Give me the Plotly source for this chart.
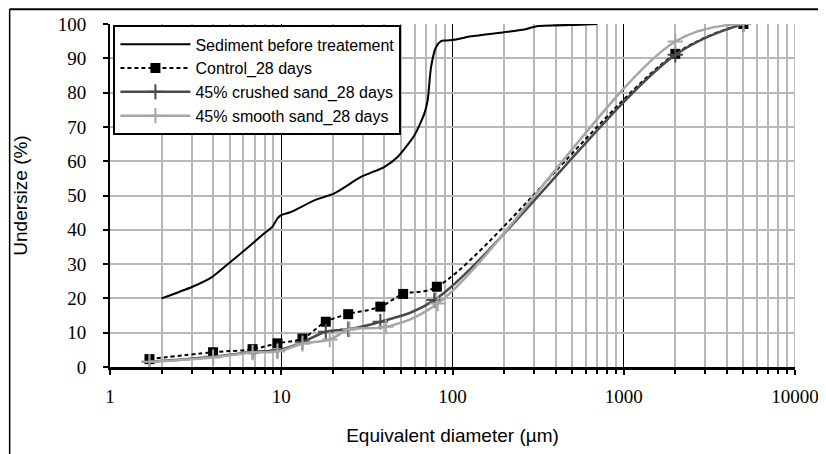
import plotly.graph_objects as go

# ---------------- data ----------------
sed_x = [2, 3.03, 3.96, 5.07, 6.06, 7.94, 8.88, 9.5, 9.94, 11.4, 15.6, 20.4, 29.2, 39.9,
         47.8, 59.8, 68.4, 71.6, 74.9, 80.1, 85.7, 91.6, 105, 128, 200, 263, 315, 563, 700]
sed_y = [20.0, 23.4, 26.3, 30.7, 33.9, 38.9, 40.9, 43.3, 44.2, 45.2, 48.6, 50.6, 55.4, 58.3,
         61.2, 67.5, 73.8, 77.7, 87.4, 93.2, 95.0, 95.2, 95.5, 96.4, 97.6, 98.4, 99.4, 99.8, 100]

ctrl_x = [1.7, 4.0, 6.8, 9.5, 13.3, 18.2, 24.6, 37.9, 51.5, 81, 2000, 5000]
ctrl_y = [2.3, 4.3, 5.2, 6.9, 8.3, 13.2, 15.4, 17.6, 21.3, 23.4, 91.3, 100]

crush_x = [1.7, 4.0, 6.8, 9.5, 13.3, 18.2, 24.6, 37.9, 78.3, 2000, 5000]
crush_y = [1.5, 3.0, 4.4, 4.9, 7.2, 10.3, 11.0, 13.2, 19.5, 91.0, 100]

smooth_x = [1.7, 4.0, 6.8, 9.5, 13.3, 19.2, 25.0, 40.8, 81.9, 2000, 5000]
smooth_y = [1.5, 2.8, 4.2, 4.5, 6.8, 8.0, 11.0, 11.7, 18.5, 94.9, 100]

names = ["Sediment before treatement", "Control_28 days",
         "45% crushed sand_28 days", "45% smooth sand_28 days"]

x_major = [1, 10, 100, 1000, 10000]
x_minor = [m * 10 ** e for e in range(0, 4) for m in range(2, 10)]
y_ticks = list(range(0, 101, 10))

GRID = "#b8b8b8"
DARK = "#4a4a4a"
LIGHT = "#a6a6a6"
SERIF = "Times New Roman, Liberation Serif, serif"
SANS = "Liberation Sans"

fig = go.Figure()
fig.add_trace(go.Scatter(x=sed_x, y=sed_y, name=names[0], mode="lines",
                         line=dict(color="black", width=2, shape="spline", smoothing=0.6)))
fig.add_trace(go.Scatter(x=ctrl_x, y=ctrl_y, name=names[1], mode="lines+markers",
                         line=dict(color="black", width=2, dash="4px,3px", shape="spline", smoothing=1),
                         marker=dict(symbol="square", size=10, color="black")))
fig.add_trace(go.Scatter(x=crush_x, y=crush_y, name=names[2], mode="lines+markers",
                         line=dict(color=DARK, width=2.5, shape="spline", smoothing=1),
                         marker=dict(symbol="cross-thin", size=11, line=dict(color=DARK, width=2))))
fig.add_trace(go.Scatter(x=smooth_x, y=smooth_y, name=names[3], mode="lines+markers",
                         line=dict(color=LIGHT, width=2.5, shape="spline", smoothing=1),
                         marker=dict(symbol="cross-thin", size=11, line=dict(color=LIGHT, width=2))))

fig.update_layout(
    width=818, height=446,
    margin=dict(l=101.5, r=30.5, t=15.5, b=87, autoexpand=False),
    paper_bgcolor="white", plot_bgcolor="white",
    showlegend=True,
    legend=dict(x=0.005, y=0.996, xanchor="left", yanchor="top",
                bgcolor="white", bordercolor="black", borderwidth=2,
                font=dict(family=SANS, size=16, color="black"),
                itemwidth=70, tracegroupgap=0),
    xaxis=dict(type="log", range=[0, 4], tickvals=x_major, ticktext=[str(v) for v in x_major],
               automargin=False, ticklabeloverflow="allow",
               showgrid=True, gridcolor="black", gridwidth=1,
               showline=True, linecolor="black", linewidth=2.5,
               ticks="outside", ticklen=5, tickcolor="black", tickwidth=1.5,
               ticklabelstandoff=5,
               tickfont=dict(family=SERIF, size=19, color="black"),
               minor=dict(tickvals=x_minor, ticks="outside", ticklen=4, tickcolor="black",
                          tickwidth=1.5, showgrid=True, gridcolor=GRID, gridwidth=1.5),
               title=dict(text="Equivalent diameter (µm)", standoff=24,
                          font=dict(family=SANS, size=19, color="black")),
               zeroline=False),
    yaxis=dict(range=[0, 100], tickvals=y_ticks,
               automargin=False,
               showgrid=True, gridcolor=GRID, gridwidth=1.5,
               showline=True, linecolor="black", linewidth=2,
               ticks="outside", ticklen=5, tickcolor="black", tickwidth=1.5,
               ticklabelstandoff=13,
               tickfont=dict(family=SERIF, size=19, color="black"),
               title=dict(text="Undersize (%)", standoff=25,
                          font=dict(family=SANS, size=19, color="black")),
               zeroline=False),
    shapes=[
        dict(type="line", xref="x", yref="paper", x0=10000, x1=10000, y0=0, y1=1,
             line=dict(color=GRID, width=2), layer="between"),
        dict(type="line", xref="paper", yref="paper", x0=-0.1465, x1=1.1, y0=1.0429, y1=1.0429,
             line=dict(color="black", width=2)),
        dict(type="line", xref="paper", yref="paper", x0=-0.1465, x1=-0.1465, y0=-0.3, y1=1.0429,
             line=dict(color="black", width=1.5)),
    ],
)

fig.write_html("out.html")
